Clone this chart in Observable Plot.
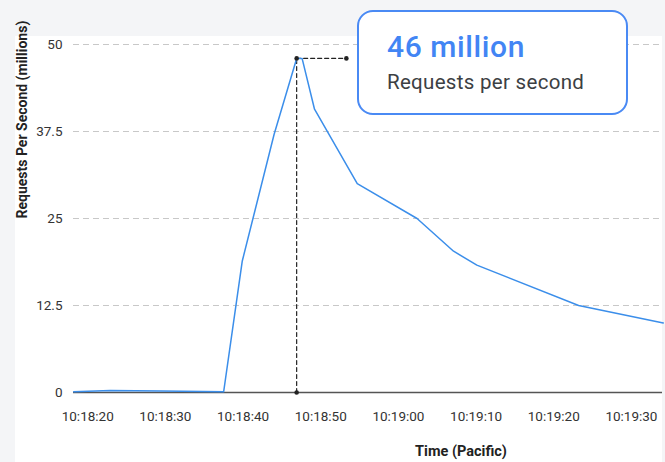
<!DOCTYPE html>
<html>
<head>
<meta charset="utf-8">
<script src="https://cdn.jsdelivr.net/npm/d3@7"></script>
<script src="https://cdn.jsdelivr.net/npm/@observablehq/plot@0.6"></script>
<style>
  html, body { margin: 0; padding: 0; }
  body { width: 665px; height: 462px; background: #f4f5f7; position: relative; overflow: hidden; font-family: Roboto, "Noto Sans", sans-serif; }
  #panel { position: absolute; left: 15px; top: 36px; width: 647px; height: 426px; background: #ffffff; }
  #chart { position: absolute; left: 0; top: 0; }
  #callout { position: absolute; left: 357px; top: 10px; width: 267px; height: 101px; border: 2px solid #4a8af4; border-radius: 16px; background: #ffffff; }
  #big { position: absolute; left: 28px; top: 20px; font-size: 30px; letter-spacing: 0.6px; font-weight: 500; color: #4285f4; line-height: 1; white-space: nowrap; }
  #small { position: absolute; left: 28px; top: 60px; font-size: 20.5px; letter-spacing: 0.3px; font-weight: 400; color: #3c4043; line-height: 1; white-space: nowrap; }
</style>
</head>
<body>
<div id="panel"></div>
<div id="chart"></div>
<div id="callout"><div id="big">46 million</div><div id="small">Requests per second</div></div>
<script>
// Series (time of day, Pacific; requests per second in millions)
const times = ["10:18:18.2", "10:18:22.9", "10:18:29.4", "10:18:37.5", "10:18:39.9", "10:18:44.0", "10:18:46.9", "10:18:47.6", "10:18:49.2", "10:18:54.7", "10:19:02.4", "10:19:07.1", "10:19:10.1", "10:19:23.2", "10:19:34.1"];
const requests = [0.1, 0.3, 0.2, 0.1, 18.9, 37.1, 48, 48, 40.7, 30, 25, 20.3, 18.3, 12.5, 10];

// Axis ticks
const yTicks = [0, 12.5, 25, 37.5, 50];
const xTickLabels = ["10:18:20", "10:18:30", "10:18:40", "10:18:50", "10:19:00", "10:19:10", "10:19:20", "10:19:30"];
const xDomainLabels = ["10:18:18.17", "10:19:34.0"];

// Peak annotation
const peakTime = "10:18:46.9";
const peakValue = 48;
const connectorEndTime = "10:18:53.3";

const parseT = s => {
  const [h, m, sec] = s.split(":");
  const whole = Math.floor(+sec);
  const ms = Math.round((+sec - whole) * 1000);
  return new Date(Date.UTC(2020, 0, 1, +h, +m, whole, ms));
};

const data = times.map((t, i) => ({time: parseT(t), value: requests[i]}));
const pT = parseT(peakTime);
const cT = parseT(connectorEndTime);
const vLine = [{time: pT, value: 0}, {time: pT, value: peakValue}];
const hLine = [{time: pT, value: peakValue}, {time: cT, value: peakValue}];
const dots = [{time: pT, value: peakValue}, {time: pT, value: 0}, {time: cT, value: peakValue}];

const chart = Plot.plot({
  width: 665,
  height: 462,
  marginLeft: 73,
  marginRight: 3,
  marginTop: 44,
  marginBottom: 70,
  style: {background: "transparent", fontFamily: "Roboto, 'Noto Sans', sans-serif", fontSize: "13px", color: "#333"},
  x: {type: "utc", domain: xDomainLabels.map(parseT), label: null},
  y: {domain: [0, 50], label: null},
  marks: [
    Plot.ruleY(yTicks.filter(d => d > 0), {stroke: "#c8c8c8", strokeDasharray: "6,4", strokeWidth: 1}),
    Plot.axisX({ticks: xTickLabels.map(parseT), tickFormat: d3.utcFormat("%H:%M:%S"), tickSize: 0, tickPadding: 19, fontSize: 13.5, fill: "#333", label: null}),
    Plot.axisY({ticks: yTicks, tickFormat: d => String(d), tickSize: 0, tickPadding: 11, fontSize: 13.5, fill: "#333", label: null}),
    Plot.ruleY([0], {stroke: "#555", strokeWidth: 1.5}),
    Plot.line(vLine, {x: "time", y: "value", stroke: "#222", strokeWidth: 1.2, strokeDasharray: "4,3"}),
    Plot.line(hLine, {x: "time", y: "value", stroke: "#222", strokeWidth: 1.2, strokeDasharray: "4,3"}),
    Plot.line(data, {x: "time", y: "value", stroke: "#3b8eea", strokeWidth: 1.5}),
    Plot.dot(dots, {x: "time", y: "value", r: 2.3, fill: "#222"}),
    Plot.text(["Requests Per Second (millions)"], {frameAnchor: "left", rotate: -90, dx: -51, fontWeight: "bold", fontSize: 14, fill: "#222"}),
    Plot.text(["Time (Pacific)"], {frameAnchor: "bottom", dx: 93, dy: 63, fontWeight: "bold", fontSize: 14.5, fill: "#222"})
  ]
});
document.getElementById("chart").appendChild(chart);
</script>
</body>
</html>
